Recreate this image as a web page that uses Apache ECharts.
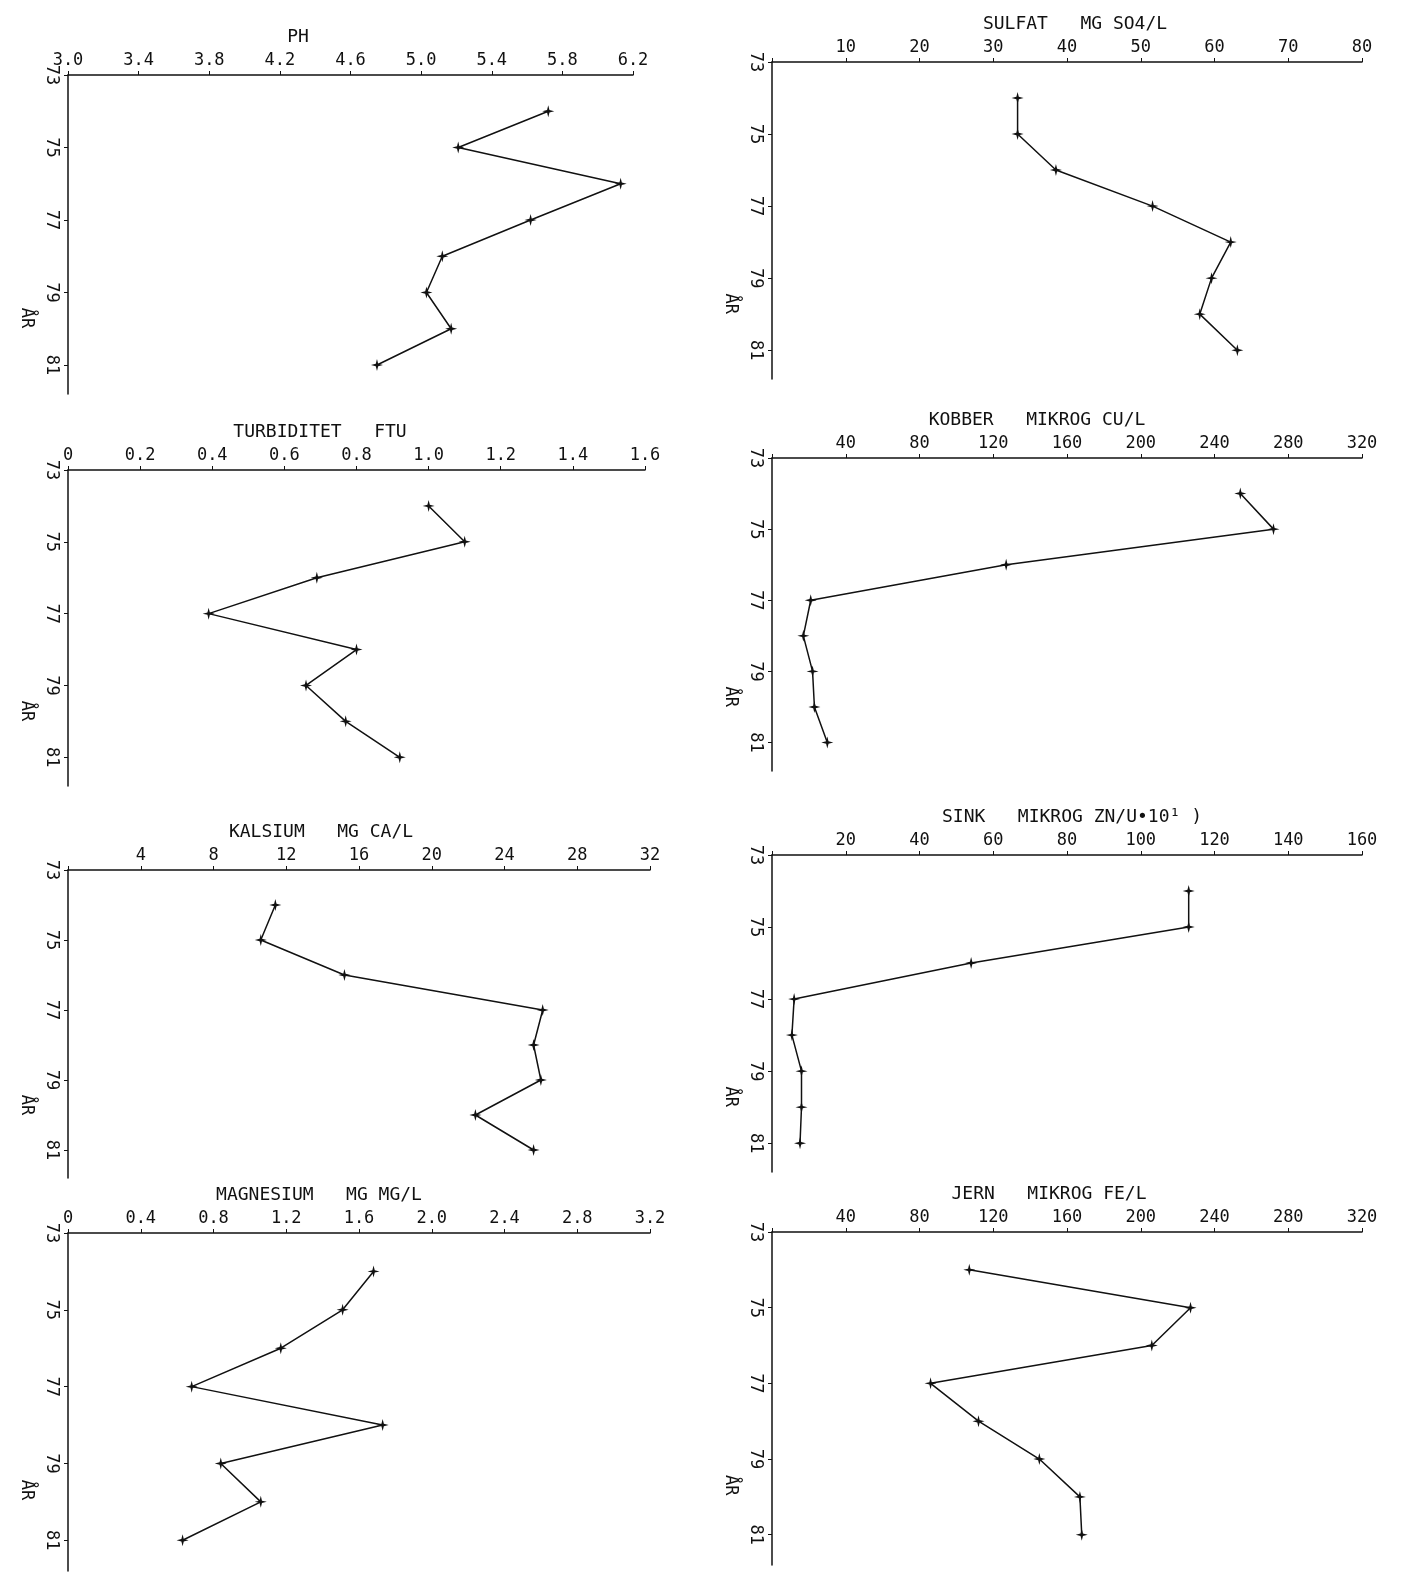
<!DOCTYPE html>
<html>
<head>
<meta charset="utf-8">
<script src="https://cdn.jsdelivr.net/npm/echarts@6/dist/echarts.min.js"></script>
</head>
<body style="margin:0;background:#fff">
<div id="main" style="width:1423px;height:1592px;"></div>
<script>
var years = [74, 75, 76, 77, 78, 79, 80, 81];
var ph = [5.72, 5.21, 6.13, 5.62, 5.12, 5.03, 5.17, 4.75];
var sulfat = [33.3, 33.3, 38.5, 51.6, 62.2, 59.6, 58.0, 63.1];
var turb = [1.0, 1.1, 0.69, 0.39, 0.8, 0.66, 0.77, 0.92];
var kobber = [254, 272, 127, 21, 17, 22, 23, 30];
var kalsium = [11.4, 10.6, 15.2, 26.1, 25.6, 26.0, 22.4, 25.6];
var sink = [113, 113, 54, 6, 5.4, 8, 8, 7.6];
var magnesium = [1.68, 1.51, 1.17, 0.68, 1.73, 0.84, 1.06, 0.63];
var jern = [107, 227, 206, 86, 112, 145, 167, 168];

var panels = [
  {title: 'PH', data: ph, min: 3.0, max: 6.2, step: 0.4, dec: 1, zero: true, left: 68, width: 565, top: 75, height: 319, tx: 293},
  {title: 'SULFAT   MG SO4/L', data: sulfat, min: 0, max: 80, step: 10, dec: 0, zero: false, left: 772, width: 590, top: 62, height: 317, tx: 1070},
  {title: 'TURBIDITET   FTU', data: turb, min: 0, max: 1.6, step: 0.2, dec: 1, zero: true, left: 68, width: 577, top: 470, height: 316, tx: 315},
  {title: 'KOBBER   MIKROG CU/L', data: kobber, min: 0, max: 320, step: 40, dec: 0, zero: false, left: 772, width: 590, top: 458, height: 313, tx: 1032},
  {title: 'KALSIUM   MG CA/L', data: kalsium, min: 0, max: 32, step: 4, dec: 0, zero: false, left: 68, width: 582, top: 870, height: 308, tx: 316},
  {title: 'SINK   MIKROG ZN/U\u202210\u00b9 )', data: sink, min: 0, max: 160, step: 20, dec: 0, zero: false, left: 772, width: 590, top: 855, height: 317, tx: 1067},
  {title: 'MAGNESIUM   MG MG/L', data: magnesium, min: 0, max: 3.2, step: 0.4, dec: 1, zero: true, left: 68, width: 582, top: 1233, height: 338, tx: 314},
  {title: 'JERN   MIKROG FE/L', data: jern, min: 0, max: 320, step: 40, dec: 0, zero: false, left: 772, width: 590, top: 1232, height: 333, tx: 1044}
];

var font = 'DejaVu Sans Mono';
var grid = [], xAxis = [], yAxis = [], series = [], title = [], graphic = [];
var star = 'path://M5,0 L6,4 L10,5 L6,6 L5,10 L4,6 L0,5 L4,4 Z';

panels.forEach(function (p, i) {
  grid.push({left: p.left, top: p.top, width: p.width, height: p.height});
  xAxis.push({
    type: 'value', gridIndex: i, position: 'top', min: p.min, max: p.max, interval: p.step,
    splitLine: {show: false},
    axisLine: {lineStyle: {color: '#111', width: 1.5}},
    axisTick: {inside: false, length: 4, lineStyle: {color: '#111'}},
    axisLabel: {
      color: '#111', fontFamily: font, fontSize: 17, margin: 6,
      formatter: function (v) {
        if (v === 0) return p.zero ? '0' : '';
        return v.toFixed(p.dec);
      }
    }
  });
  yAxis.push({
    type: 'value', gridIndex: i, inverse: true, min: 73, max: 81.8, interval: 2,
    splitLine: {show: false},
    axisLine: {lineStyle: {color: '#111', width: 1.5}},
    axisTick: {length: 4, lineStyle: {color: '#111'}},
    axisLabel: {color: '#111', fontFamily: font, fontSize: 17, rotate: -90, margin: 8,
      showMaxLabel: false}
  });
  series.push({
    type: 'line', xAxisIndex: i, yAxisIndex: i,
    data: p.data.map(function (v, k) { return [v, years[k]]; }),
    lineStyle: {color: '#111', width: 1.5},
    itemStyle: {color: '#111'},
    symbol: star, symbolSize: 12, animation: false
  });
  title.push({
    text: p.title, left: p.tx, top: p.top - 52, textAlign: 'center',
    textStyle: {fontFamily: font, fontSize: 18, fontWeight: 'normal', color: '#111'}
  });
  graphic.push({
    type: 'text', left: p.left - 50, top: p.top + p.height * 0.73, rotation: -Math.PI / 2,
    style: {text: 'ÅR', font: '17px "' + font + '"', fill: '#111'}
  });
});

var chart = echarts.init(document.getElementById('main'));
chart.setOption({
  animation: false,
  backgroundColor: '#fff',
  title: title, grid: grid, xAxis: xAxis, yAxis: yAxis, series: series, graphic: graphic
});
</script>
</body>
</html>
